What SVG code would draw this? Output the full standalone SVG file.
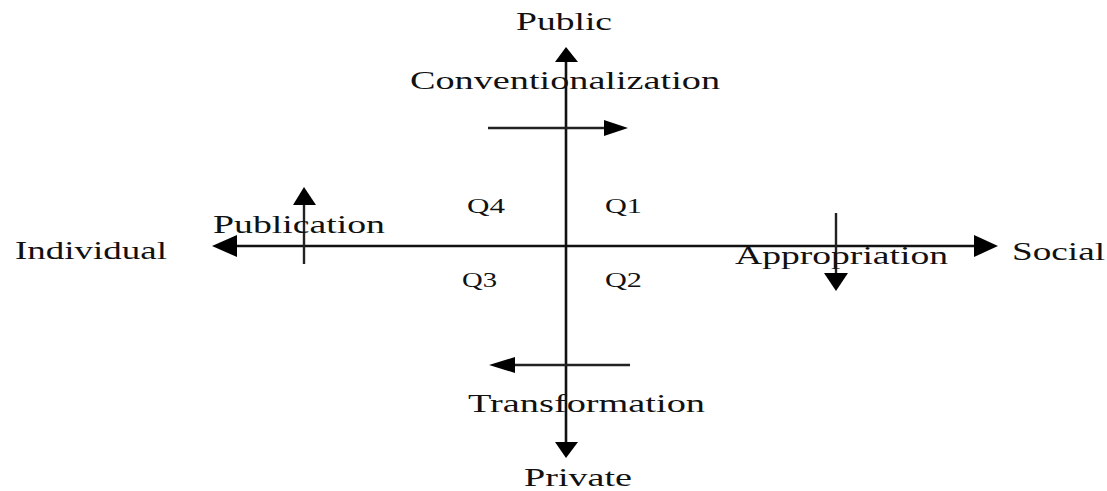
<svg xmlns="http://www.w3.org/2000/svg" width="1107" height="491" viewBox="0 0 1107 491">
  <defs>
    <style>
      .lbl { font-family: "Liberation Serif", "Times New Roman", serif; font-size: 25px; fill: #111; }
      .q { font-family: "Liberation Serif", "Times New Roman", serif; font-size: 21px; fill: #111; }
      .axis { stroke: #111; stroke-width: 2.6; fill: none; }
      .flow { stroke: #222; stroke-width: 2.4; fill: none; }
      .head { fill: #000; }
    </style>
  </defs>
  <rect width="1107" height="491" fill="#fff"/>

  <!-- axes and process arrows -->
  <g id="connectors">
    <!-- vertical axis: Private to Public -->
    <line class="axis" x1="566" y1="60" x2="566" y2="444"/>
    <polygon class="head" points="566,47 555,62 578,62"/>
    <polygon class="head" points="566,458 555,442 578,442"/>
    <!-- horizontal axis: Individual to Social -->
    <line class="axis" x1="226" y1="246" x2="984" y2="246"/>
    <polygon class="head" points="212,246 237,235 237,257"/>
    <polygon class="head" points="998,246 974,235 974,257"/>
    <!-- Conventionalization -->
    <line class="flow" x1="488" y1="128" x2="610" y2="128"/>
    <polygon class="head" points="628,128 604,120 604,136"/>
    <!-- Publication -->
    <line class="flow" x1="304" y1="264" x2="304" y2="200"/>
    <polygon class="head" points="304,187 293,205 316,205"/>
    <!-- Appropriation -->
    <line class="flow" x1="836" y1="213" x2="836" y2="276"/>
    <polygon class="head" points="836,291 824,273 848,273"/>
    <!-- Transformation -->
    <line class="flow" x1="630" y1="365" x2="505" y2="365"/>
    <polygon class="head" points="489,365 515,357 515,373"/>
  </g>

  <g id="public"><text class="lbl" x="516" y="30" textLength="96" lengthAdjust="spacingAndGlyphs">Public</text></g>
  <g id="private"><text class="lbl" x="524" y="486" textLength="108" lengthAdjust="spacingAndGlyphs">Private</text></g>
  <g id="individual"><text class="lbl" x="15" y="259" textLength="152" lengthAdjust="spacingAndGlyphs">Individual</text></g>
  <g id="social"><text class="lbl" x="1012" y="260" textLength="93" lengthAdjust="spacingAndGlyphs">Social</text></g>

  <g id="conventionalization"><text class="lbl" x="410" y="89" textLength="310" lengthAdjust="spacingAndGlyphs">Conventionalization</text></g>
  <g id="publication"><text class="lbl" x="213" y="233" textLength="172" lengthAdjust="spacingAndGlyphs">Publication</text></g>
  <g id="appropriation"><text class="lbl" x="735" y="264" textLength="213" lengthAdjust="spacingAndGlyphs">Appropriation</text></g>
  <g id="transformation"><text class="lbl" x="468" y="412" textLength="237" lengthAdjust="spacingAndGlyphs">Transformation</text></g>

  <g id="q4"><text class="q" x="467" y="213" textLength="38" lengthAdjust="spacingAndGlyphs">Q4</text></g>
  <g id="q1"><text class="q" x="605" y="213" textLength="37" lengthAdjust="spacingAndGlyphs">Q1</text></g>
  <g id="q3"><text class="q" x="462" y="287" textLength="35" lengthAdjust="spacingAndGlyphs">Q3</text></g>
  <g id="q2"><text class="q" x="605" y="287" textLength="37" lengthAdjust="spacingAndGlyphs">Q2</text></g>
</svg>
